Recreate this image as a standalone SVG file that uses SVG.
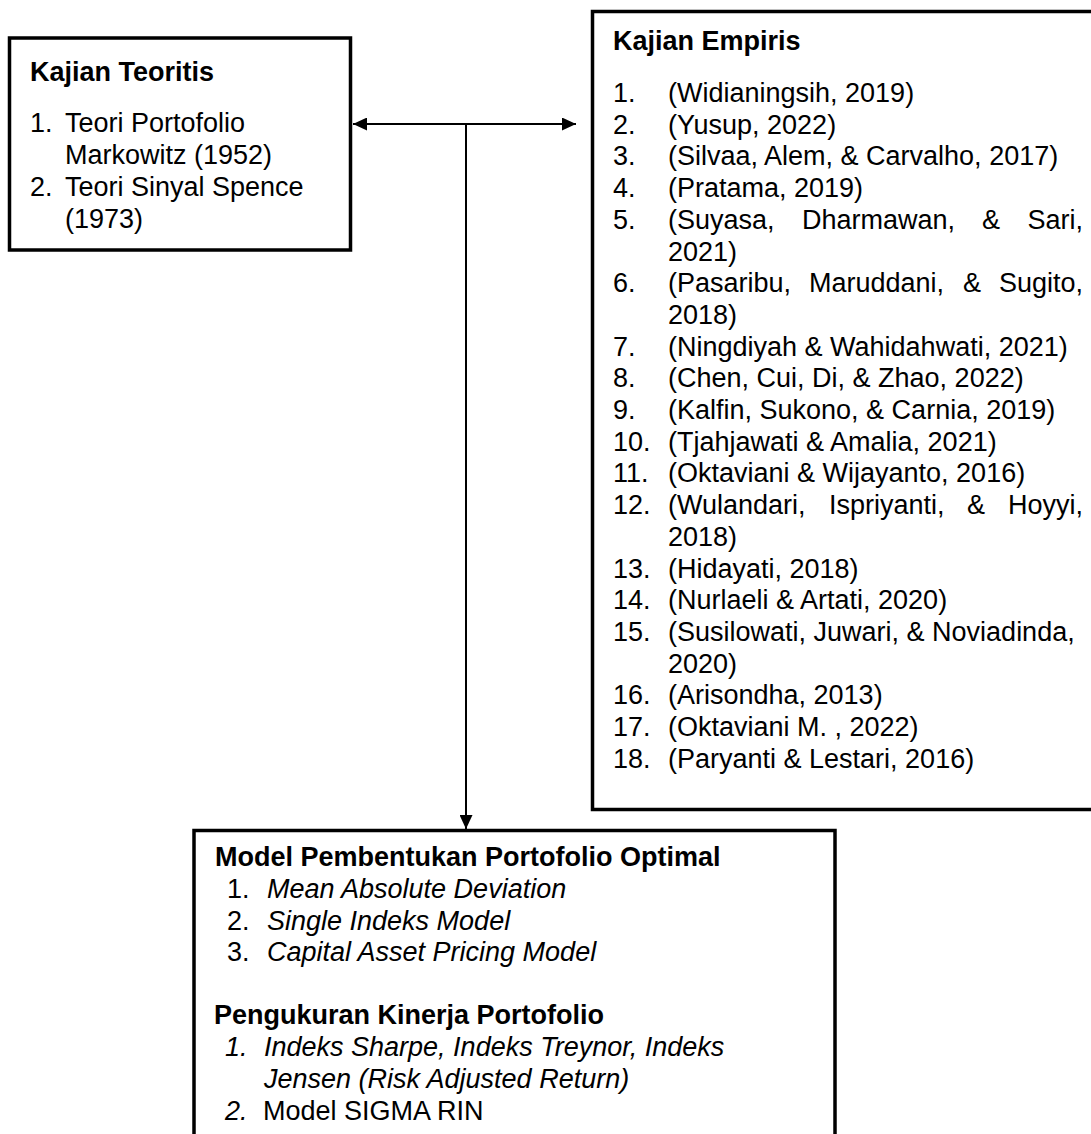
<svg xmlns="http://www.w3.org/2000/svg" width="1091" height="1134" viewBox="0 0 1091 1134">
<style>
text{font-family:"Liberation Sans",Arial,sans-serif;font-size:27px;fill:#000}
.b{font-weight:bold}
.i{font-style:italic}
.box{fill:#fff;stroke:#000;stroke-width:3.5}
.con{stroke:#000;stroke-width:2;fill:none}
</style>
<defs>
<marker id="ah" markerUnits="userSpaceOnUse" markerWidth="14" markerHeight="13" refX="14" refY="6.5" orient="auto-start-reverse">
<path d="M0,0 L14,6.5 L0,13 z" fill="#000"/>
</marker>
</defs>
<rect width="1091" height="1134" fill="#fff"/>
<g id="connectors">
<line class="con" x1="353" y1="124" x2="576" y2="124" marker-start="url(#ah)" marker-end="url(#ah)"/>
<line class="con" x1="466" y1="124" x2="466" y2="829" marker-end="url(#ah)"/>
</g>
<g id="kajian-teoritis">
<rect class="box" x="9.5" y="38" width="341" height="212"/>
<text class="b" x="30" y="81">Kajian Teoritis</text>
<text x="30" y="132">1.</text><text x="65" y="132">Teori Portofolio</text>
<text x="65" y="164">Markowitz (1952)</text>
<text x="30" y="196">2.</text><text x="65" y="196">Teori Sinyal Spence</text>
<text x="65" y="228">(1973)</text>
</g>
<g id="kajian-empiris">
<rect class="box" x="592.5" y="11.5" width="520" height="798"/>
<text class="b" x="613" y="50">Kajian Empiris</text>
<text x="613" y="102">1.</text><text x="668" y="102">(Widianingsih, 2019)</text>
<text x="613" y="133.7">2.</text><text x="668" y="133.7">(Yusup, 2022)</text>
<text x="613" y="165.4">3.</text><text x="668" y="165.4">(Silvaa, Alem, &amp; Carvalho, 2017)</text>
<text x="613" y="197.1">4.</text><text x="668" y="197.1">(Pratama, 2019)</text>
<text x="613" y="228.8">5.</text><text y="228.8"><tspan x="668">(Suyasa,</tspan><tspan x="802">Dharmawan,</tspan><tspan x="982">&amp;</tspan></text><text x="1083" y="228.8" text-anchor="end">Sari,</text>
<text x="668" y="260.5">2021)</text>
<text x="613" y="292.2">6.</text><text y="292.2"><tspan x="668">(Pasaribu,</tspan><tspan x="809">Maruddani,</tspan><tspan x="963">&amp;</tspan></text><text x="1083" y="292.2" text-anchor="end">Sugito,</text>
<text x="668" y="323.9">2018)</text>
<text x="613" y="355.6">7.</text><text x="668" y="355.6">(Ningdiyah &amp; Wahidahwati, 2021)</text>
<text x="613" y="387.3">8.</text><text x="668" y="387.3">(Chen, Cui, Di, &amp; Zhao, 2022)</text>
<text x="613" y="419">9.</text><text x="668" y="419">(Kalfin, Sukono, &amp; Carnia, 2019)</text>
<text x="613" y="450.7">10.</text><text x="668" y="450.7">(Tjahjawati &amp; Amalia, 2021)</text>
<text x="613" y="482.4">11.</text><text x="668" y="482.4">(Oktaviani &amp; Wijayanto, 2016)</text>
<text x="613" y="514.1">12.</text><text y="514.1"><tspan x="668">(Wulandari,</tspan><tspan x="829">Ispriyanti,</tspan><tspan x="967">&amp;</tspan></text><text x="1083" y="514.1" text-anchor="end">Hoyyi,</text>
<text x="668" y="545.8">2018)</text>
<text x="613" y="577.5">13.</text><text x="668" y="577.5">(Hidayati, 2018)</text>
<text x="613" y="609.2">14.</text><text x="668" y="609.2">(Nurlaeli &amp; Artati, 2020)</text>
<text x="613" y="640.9">15.</text><text x="668" y="640.9">(Susilowati, Juwari, &amp; Noviadinda,</text>
<text x="668" y="672.6">2020)</text>
<text x="613" y="704.3">16.</text><text x="668" y="704.3">(Arisondha, 2013)</text>
<text x="613" y="736">17.</text><text x="668" y="736">(Oktaviani M. , 2022)</text>
<text x="613" y="767.7">18.</text><text x="668" y="767.7">(Paryanti &amp; Lestari, 2016)</text>
</g>
<g id="model-portofolio">
<rect class="box" x="194" y="830.5" width="641" height="320"/>
<text class="b" x="215" y="866">Model Pembentukan Portofolio Optimal</text>
<text x="227" y="898">1.</text><text class="i" x="267" y="898">Mean Absolute Deviation</text>
<text x="227" y="930">2.</text><text class="i" x="267" y="930">Single Indeks Model</text>
<text x="227" y="961">3.</text><text class="i" x="267" y="961">Capital Asset Pricing Model</text>
<text class="b" x="214" y="1024">Pengukuran Kinerja Portofolio</text>
<text class="i" x="225" y="1056">1.</text><text class="i" x="264" y="1056">Indeks Sharpe, Indeks Treynor, Indeks</text>
<text class="i" x="264" y="1088">Jensen (Risk Adjusted Return)</text>
<text class="i" x="225" y="1120">2.</text><text x="263" y="1120">Model SIGMA RIN</text>
</g>
</svg>
